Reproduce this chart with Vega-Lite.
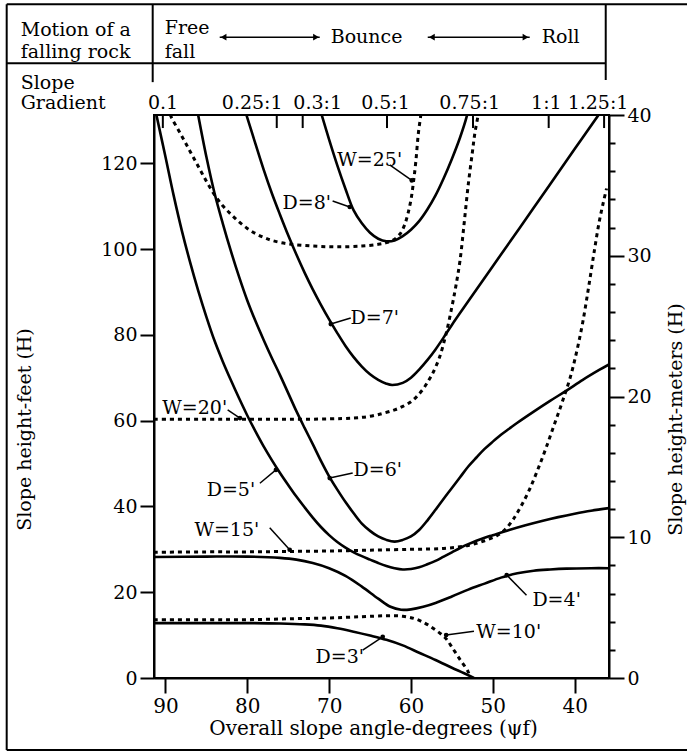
{
  "$schema": "https://vega.github.io/schema/vega-lite/v6.json",
  "width": 455,
  "height": 563,
  "autosize": {"type": "none"},
  "padding": {"left": 154, "top": 115, "right": 78, "bottom": 75},
  "background": "white",
  "config": {
    "view": {"stroke": "black", "strokeWidth": 2},
    "font": "DejaVu Serif",
    "axis": {
      "domainColor": "black", "domainWidth": 2, "tickColor": "black", "tickWidth": 2,
      "labelColor": "black", "titleColor": "black", "labelFont": "DejaVu Serif", "titleFont": "DejaVu Serif",
      "labelFontSize": 19, "titleFontSize": 19, "titleFontWeight": "normal", "grid": false
    }
  },
  "datasets": {
    "D": [
      {"s": "D=3", "x": 91.4, "h": 12.8}, {"s": "D=3", "x": 85, "h": 12.8}, {"s": "D=3", "x": 80, "h": 12.8}, {"s": "D=3", "x": 76, "h": 12.7}, {"s": "D=3", "x": 73, "h": 12.5}, {"s": "D=3", "x": 71, "h": 12.2}, {"s": "D=3", "x": 69, "h": 11.6}, {"s": "D=3", "x": 67, "h": 10.8}, {"s": "D=3", "x": 65, "h": 9.9}, {"s": "D=3", "x": 63, "h": 8.9}, {"s": "D=3", "x": 61, "h": 7.6}, {"s": "D=3", "x": 59, "h": 5.9}, {"s": "D=3", "x": 57, "h": 4.2}, {"s": "D=3", "x": 55, "h": 2.4}, {"s": "D=3", "x": 53.5, "h": 1.1}, {"s": "D=3", "x": 52.3, "h": 0},
      {"s": "D=4", "x": 91.4, "h": 28.2}, {"s": "D=4", "x": 85, "h": 28.3}, {"s": "D=4", "x": 80, "h": 28.3}, {"s": "D=4", "x": 76, "h": 28.0}, {"s": "D=4", "x": 74, "h": 27.6}, {"s": "D=4", "x": 72, "h": 26.8}, {"s": "D=4", "x": 70, "h": 25.6}, {"s": "D=4", "x": 68, "h": 23.8}, {"s": "D=4", "x": 66, "h": 21.3}, {"s": "D=4", "x": 64, "h": 18.5}, {"s": "D=4", "x": 62.5, "h": 16.6}, {"s": "D=4", "x": 61.2, "h": 15.9}, {"s": "D=4", "x": 60, "h": 16.0}, {"s": "D=4", "x": 58.5, "h": 16.6}, {"s": "D=4", "x": 57, "h": 17.5}, {"s": "D=4", "x": 55, "h": 19.0}, {"s": "D=4", "x": 53, "h": 20.6}, {"s": "D=4", "x": 51, "h": 22.0}, {"s": "D=4", "x": 49, "h": 23.4}, {"s": "D=4", "x": 47, "h": 24.4}, {"s": "D=4", "x": 45, "h": 25.0}, {"s": "D=4", "x": 43, "h": 25.3}, {"s": "D=4", "x": 41, "h": 25.5}, {"s": "D=4", "x": 38, "h": 25.6}, {"s": "D=4", "x": 35.8, "h": 25.6},
      {"s": "D=5", "x": 91.1, "h": 131.2}, {"s": "D=5", "x": 90, "h": 121.5}, {"s": "D=5", "x": 89, "h": 112.5}, {"s": "D=5", "x": 88, "h": 104.3}, {"s": "D=5", "x": 87, "h": 97}, {"s": "D=5", "x": 86, "h": 90.3}, {"s": "D=5", "x": 85, "h": 84.2}, {"s": "D=5", "x": 84, "h": 78.6}, {"s": "D=5", "x": 83, "h": 73.8}, {"s": "D=5", "x": 82, "h": 69.4}, {"s": "D=5", "x": 81, "h": 65.2}, {"s": "D=5", "x": 80, "h": 61.2}, {"s": "D=5", "x": 79, "h": 57.5}, {"s": "D=5", "x": 78, "h": 54}, {"s": "D=5", "x": 77, "h": 50.8}, {"s": "D=5", "x": 76, "h": 47.8}, {"s": "D=5", "x": 75, "h": 45}, {"s": "D=5", "x": 74, "h": 42.3}, {"s": "D=5", "x": 73, "h": 39.8}, {"s": "D=5", "x": 72, "h": 37.4}, {"s": "D=5", "x": 71, "h": 35.2}, {"s": "D=5", "x": 70, "h": 33.3}, {"s": "D=5", "x": 69, "h": 31.7}, {"s": "D=5", "x": 68, "h": 30.4}, {"s": "D=5", "x": 67, "h": 29.3}, {"s": "D=5", "x": 66, "h": 28.4}, {"s": "D=5", "x": 65, "h": 27.6}, {"s": "D=5", "x": 64, "h": 26.8}, {"s": "D=5", "x": 63, "h": 26.1}, {"s": "D=5", "x": 62, "h": 25.6}, {"s": "D=5", "x": 61, "h": 25.3}, {"s": "D=5", "x": 60, "h": 25.4}, {"s": "D=5", "x": 59, "h": 25.8}, {"s": "D=5", "x": 58, "h": 26.5}, {"s": "D=5", "x": 57, "h": 27.3}, {"s": "D=5", "x": 56, "h": 28.3}, {"s": "D=5", "x": 55, "h": 29.3}, {"s": "D=5", "x": 54, "h": 30.3}, {"s": "D=5", "x": 53, "h": 31.2}, {"s": "D=5", "x": 52, "h": 32.0}, {"s": "D=5", "x": 51, "h": 32.7}, {"s": "D=5", "x": 50, "h": 33.3}, {"s": "D=5", "x": 48, "h": 34.5}, {"s": "D=5", "x": 46, "h": 35.6}, {"s": "D=5", "x": 44, "h": 36.6}, {"s": "D=5", "x": 42, "h": 37.5}, {"s": "D=5", "x": 40, "h": 38.3}, {"s": "D=5", "x": 38, "h": 39.0}, {"s": "D=5", "x": 35.8, "h": 39.6},
      {"s": "D=6", "x": 86, "h": 131.2}, {"s": "D=6", "x": 85, "h": 121.5}, {"s": "D=6", "x": 84, "h": 113}, {"s": "D=6", "x": 83, "h": 106}, {"s": "D=6", "x": 82, "h": 99.5}, {"s": "D=6", "x": 81, "h": 93.5}, {"s": "D=6", "x": 80, "h": 88}, {"s": "D=6", "x": 79, "h": 83.2}, {"s": "D=6", "x": 78, "h": 78.8}, {"s": "D=6", "x": 77, "h": 74.6}, {"s": "D=6", "x": 76, "h": 70.6}, {"s": "D=6", "x": 75, "h": 66.4}, {"s": "D=6", "x": 74, "h": 62.2}, {"s": "D=6", "x": 73, "h": 58.3}, {"s": "D=6", "x": 72, "h": 54.5}, {"s": "D=6", "x": 71, "h": 50.6}, {"s": "D=6", "x": 70, "h": 47}, {"s": "D=6", "x": 69, "h": 43.9}, {"s": "D=6", "x": 68, "h": 41}, {"s": "D=6", "x": 67, "h": 38.4}, {"s": "D=6", "x": 66, "h": 36}, {"s": "D=6", "x": 65, "h": 34.3}, {"s": "D=6", "x": 64, "h": 33}, {"s": "D=6", "x": 63, "h": 32.2}, {"s": "D=6", "x": 62, "h": 31.8}, {"s": "D=6", "x": 61, "h": 32.2}, {"s": "D=6", "x": 60, "h": 33}, {"s": "D=6", "x": 59, "h": 34.5}, {"s": "D=6", "x": 58, "h": 36.7}, {"s": "D=6", "x": 57, "h": 39.2}, {"s": "D=6", "x": 56, "h": 41.8}, {"s": "D=6", "x": 55, "h": 44.3}, {"s": "D=6", "x": 54, "h": 46.8}, {"s": "D=6", "x": 53, "h": 49.3}, {"s": "D=6", "x": 52, "h": 51.4}, {"s": "D=6", "x": 51, "h": 53.4}, {"s": "D=6", "x": 50, "h": 55.1}, {"s": "D=6", "x": 49, "h": 56.7}, {"s": "D=6", "x": 48, "h": 58.1}, {"s": "D=6", "x": 47, "h": 59.5}, {"s": "D=6", "x": 45, "h": 62.1}, {"s": "D=6", "x": 43, "h": 64.6}, {"s": "D=6", "x": 41, "h": 67}, {"s": "D=6", "x": 39, "h": 69.5}, {"s": "D=6", "x": 37, "h": 71.8}, {"s": "D=6", "x": 35.8, "h": 73.1},
      {"s": "D=7", "x": 80.1, "h": 131.2}, {"s": "D=7", "x": 79, "h": 124.5}, {"s": "D=7", "x": 78, "h": 118.5}, {"s": "D=7", "x": 77, "h": 113}, {"s": "D=7", "x": 76, "h": 108}, {"s": "D=7", "x": 75, "h": 103.2}, {"s": "D=7", "x": 74, "h": 98.7}, {"s": "D=7", "x": 73, "h": 94.5}, {"s": "D=7", "x": 72, "h": 90.6}, {"s": "D=7", "x": 71, "h": 87}, {"s": "D=7", "x": 70, "h": 83.6}, {"s": "D=7", "x": 69, "h": 80.4}, {"s": "D=7", "x": 68, "h": 77.4}, {"s": "D=7", "x": 67, "h": 74.8}, {"s": "D=7", "x": 66, "h": 72.6}, {"s": "D=7", "x": 65, "h": 70.8}, {"s": "D=7", "x": 64, "h": 69.5}, {"s": "D=7", "x": 63, "h": 68.6}, {"s": "D=7", "x": 62.3, "h": 68.3}, {"s": "D=7", "x": 61, "h": 68.8}, {"s": "D=7", "x": 60, "h": 70}, {"s": "D=7", "x": 59, "h": 71.9}, {"s": "D=7", "x": 58, "h": 74.1}, {"s": "D=7", "x": 57, "h": 76.6}, {"s": "D=7", "x": 56, "h": 79.4}, {"s": "D=7", "x": 55, "h": 82.3}, {"s": "D=7", "x": 53, "h": 87.8}, {"s": "D=7", "x": 50, "h": 96}, {"s": "D=7", "x": 45, "h": 109.6}, {"s": "D=7", "x": 40, "h": 123.3}, {"s": "D=7", "x": 37.1, "h": 131.2},
      {"s": "D=8", "x": 71.2, "h": 133}, {"s": "D=8", "x": 70.9, "h": 131.2}, {"s": "D=8", "x": 70, "h": 125.5}, {"s": "D=8", "x": 69, "h": 119.5}, {"s": "D=8", "x": 68, "h": 114}, {"s": "D=8", "x": 67, "h": 109}, {"s": "D=8", "x": 66, "h": 106}, {"s": "D=8", "x": 65, "h": 103.8}, {"s": "D=8", "x": 64, "h": 102.4}, {"s": "D=8", "x": 63, "h": 101.8}, {"s": "D=8", "x": 62, "h": 102}, {"s": "D=8", "x": 61, "h": 103}, {"s": "D=8", "x": 60, "h": 104.5}, {"s": "D=8", "x": 59, "h": 106.5}, {"s": "D=8", "x": 58, "h": 109.2}, {"s": "D=8", "x": 57, "h": 112.5}, {"s": "D=8", "x": 56, "h": 116.5}, {"s": "D=8", "x": 55, "h": 121}, {"s": "D=8", "x": 54, "h": 126}, {"s": "D=8", "x": 53.2, "h": 130.8}, {"s": "D=8", "x": 53, "h": 132.5}
    ],
    "W": [
      {"s": "W=10", "x": 91.4, "h": 13.6}, {"s": "W=10", "x": 85, "h": 13.6}, {"s": "W=10", "x": 80, "h": 13.6}, {"s": "W=10", "x": 75, "h": 13.8}, {"s": "W=10", "x": 70, "h": 14.0}, {"s": "W=10", "x": 66, "h": 14.3}, {"s": "W=10", "x": 63, "h": 14.5}, {"s": "W=10", "x": 61, "h": 14.4}, {"s": "W=10", "x": 59.5, "h": 13.8}, {"s": "W=10", "x": 58.3, "h": 12.8}, {"s": "W=10", "x": 57.3, "h": 11.6}, {"s": "W=10", "x": 56.3, "h": 10.2}, {"s": "W=10", "x": 55.6, "h": 8.9}, {"s": "W=10", "x": 55, "h": 7.2}, {"s": "W=10", "x": 54, "h": 4.3}, {"s": "W=10", "x": 53, "h": 1.4}, {"s": "W=10", "x": 52.8, "h": 0},
      {"s": "W=15", "x": 91.4, "h": 29.3}, {"s": "W=15", "x": 85, "h": 29.4}, {"s": "W=15", "x": 80, "h": 29.4}, {"s": "W=15", "x": 75, "h": 29.5}, {"s": "W=15", "x": 70, "h": 29.6}, {"s": "W=15", "x": 65, "h": 29.8}, {"s": "W=15", "x": 60, "h": 30.0}, {"s": "W=15", "x": 56, "h": 30.2}, {"s": "W=15", "x": 53, "h": 30.9}, {"s": "W=15", "x": 51, "h": 32.0}, {"s": "W=15", "x": 49.5, "h": 33.2}, {"s": "W=15", "x": 48.5, "h": 34.6}, {"s": "W=15", "x": 47.5, "h": 37.0}, {"s": "W=15", "x": 46.5, "h": 40.2}, {"s": "W=15", "x": 45.5, "h": 44.0}, {"s": "W=15", "x": 44.5, "h": 48.6}, {"s": "W=15", "x": 43.5, "h": 53.6}, {"s": "W=15", "x": 42.5, "h": 59.0}, {"s": "W=15", "x": 41.5, "h": 64.4}, {"s": "W=15", "x": 40.5, "h": 70.3}, {"s": "W=15", "x": 39.7, "h": 76.5}, {"s": "W=15", "x": 39, "h": 83}, {"s": "W=15", "x": 38.3, "h": 91}, {"s": "W=15", "x": 37.6, "h": 99.5}, {"s": "W=15", "x": 37, "h": 106.3}, {"s": "W=15", "x": 36.5, "h": 110.8}, {"s": "W=15", "x": 36.1, "h": 114.1},
      {"s": "W=20", "x": 91.4, "h": 60.3}, {"s": "W=20", "x": 85, "h": 60.3}, {"s": "W=20", "x": 80, "h": 60.3}, {"s": "W=20", "x": 75, "h": 60.3}, {"s": "W=20", "x": 70, "h": 60.4}, {"s": "W=20", "x": 67, "h": 60.6}, {"s": "W=20", "x": 65, "h": 61.0}, {"s": "W=20", "x": 63.4, "h": 61.7}, {"s": "W=20", "x": 62, "h": 62.5}, {"s": "W=20", "x": 61, "h": 63.3}, {"s": "W=20", "x": 60, "h": 64.4}, {"s": "W=20", "x": 59.3, "h": 65.6}, {"s": "W=20", "x": 58.5, "h": 67.4}, {"s": "W=20", "x": 57.8, "h": 69.5}, {"s": "W=20", "x": 57.3, "h": 71.2}, {"s": "W=20", "x": 56.5, "h": 74.8}, {"s": "W=20", "x": 55.7, "h": 80.3}, {"s": "W=20", "x": 55, "h": 86.5}, {"s": "W=20", "x": 54.5, "h": 91.5}, {"s": "W=20", "x": 54, "h": 97.4}, {"s": "W=20", "x": 53.5, "h": 106}, {"s": "W=20", "x": 53, "h": 115}, {"s": "W=20", "x": 52.5, "h": 122.5}, {"s": "W=20", "x": 52.2, "h": 126.9}, {"s": "W=20", "x": 51.8, "h": 131.2}, {"s": "W=20", "x": 51.7, "h": 133},
      {"s": "W=25", "x": 89.8, "h": 133}, {"s": "W=25", "x": 89.3, "h": 130.8}, {"s": "W=25", "x": 88, "h": 126.3}, {"s": "W=25", "x": 87, "h": 122.8}, {"s": "W=25", "x": 86, "h": 119.3}, {"s": "W=25", "x": 85, "h": 115.8}, {"s": "W=25", "x": 84, "h": 112.6}, {"s": "W=25", "x": 83, "h": 110.1}, {"s": "W=25", "x": 82, "h": 108.1}, {"s": "W=25", "x": 81, "h": 106.3}, {"s": "W=25", "x": 80, "h": 104.8}, {"s": "W=25", "x": 79, "h": 103.6}, {"s": "W=25", "x": 78, "h": 102.7}, {"s": "W=25", "x": 77, "h": 102}, {"s": "W=25", "x": 75, "h": 101.2}, {"s": "W=25", "x": 72, "h": 100.7}, {"s": "W=25", "x": 69, "h": 100.5}, {"s": "W=25", "x": 66, "h": 100.7}, {"s": "W=25", "x": 64, "h": 101.1}, {"s": "W=25", "x": 63, "h": 101.5}, {"s": "W=25", "x": 62, "h": 102.3}, {"s": "W=25", "x": 61.3, "h": 103.6}, {"s": "W=25", "x": 60.8, "h": 105.5}, {"s": "W=25", "x": 60.4, "h": 108}, {"s": "W=25", "x": 60, "h": 111.5}, {"s": "W=25", "x": 59.7, "h": 115.5}, {"s": "W=25", "x": 59.4, "h": 120.5}, {"s": "W=25", "x": 59.1, "h": 126.9}, {"s": "W=25", "x": 58.8, "h": 131.2}, {"s": "W=25", "x": 58.7, "h": 133}
    ],
    "labels": [
      {"t": "W=25'", "x": 65.04, "h": 120.7}, {"t": "D=8'", "x": 72.73, "h": 110.7}, {"t": "D=7'", "x": 64.43, "h": 83.9},
      {"t": "W=20'", "x": 86.43, "h": 62.9}, {"t": "D=5'", "x": 82.0, "h": 43.8}, {"t": "D=6'", "x": 64.06, "h": 48.5},
      {"t": "W=15'", "x": 82.5, "h": 34.5}, {"t": "D=4'", "x": 42.2, "h": 18.2}, {"t": "W=10'", "x": 48.05, "h": 10.7}, {"t": "D=3'", "x": 68.7, "h": 4.9}
    ],
    "leaders": [
      {"x": 59.9, "h": 116.0, "x2": 62.6, "h2": 119.6}, {"x": 67.48, "h": 109.8, "x2": 69.57, "h2": 111.2},
      {"x": 69.8, "h": 82.5, "x2": 67.36, "h2": 83.9}, {"x": 80.9, "h": 60.6, "x2": 82.4, "h2": 62.5},
      {"x": 76.5, "h": 48.5, "x2": 78.46, "h2": 45.4}, {"x": 69.93, "h": 46.6, "x2": 67.12, "h2": 47.8},
      {"x": 74.82, "h": 29.9, "x2": 77.26, "h2": 35.0}, {"x": 48.3, "h": 24.0, "x2": 45.88, "h2": 19.3},
      {"x": 55.7, "h": 10.0, "x2": 52.3, "h2": 10.9}, {"x": 63.45, "h": 9.6, "x2": 65.9, "h2": 6.5}
    ],
    "frame": [
      {"x": 109.4, "h": 157.07, "x2": 20, "h2": 157.07}, {"x": 109.4, "h": 143.32, "x2": 36.2, "h2": 143.32},
      {"x": 91.56, "h": 157.07, "x2": 91.56, "h2": 138.9}, {"x": 36.2, "h": 157.07, "x2": 36.2, "h2": 139.4},
      {"x": 109.4, "h": 157.07, "x2": 109.4, "h2": -16.8}, {"x": 109.4, "h": -16.8, "x2": 20, "h2": -16.8}
    ],
    "headtext": [
      {"t": "Motion of a", "x": 107.69, "h": 151.0}, {"t": "falling rock", "x": 107.69, "h": 145.9},
      {"t": "Free", "x": 90.09, "h": 151.5}, {"t": "fall", "x": 90.09, "h": 145.9},
      {"t": "Bounce", "x": 69.81, "h": 149.38}, {"t": "Roll", "x": 44.02, "h": 149.38},
      {"t": "Slope", "x": 107.69, "h": 138.8}, {"t": "Gradient", "x": 107.69, "h": 134.0}
    ],
    "arrows": [
      {"x": 83.37, "h": 149.38, "x2": 71.15, "h2": 149.38}, {"x": 57.95, "h": 149.38, "x2": 45.49, "h2": 149.38}
    ],
    "heads": [
      {"x": 82.9, "h": 149.38, "dir": "left"}, {"x": 71.6, "h": 149.38, "dir": "right"},
      {"x": 57.45, "h": 149.38, "dir": "left"}, {"x": 46.0, "h": 149.38, "dir": "right"}
    ],
    "gradticks": [
      {"g": "0.1", "x": 90.32, "h": 131.24, "h2": 128.2}, {"g": "0.25:1", "x": 76.4, "h": 131.24, "h2": 128.2},
      {"g": "0.3:1", "x": 73.23, "h": 131.24, "h2": 128.2}, {"g": "0.5:1", "x": 62.93, "h": 131.24, "h2": 128.2},
      {"g": "0.75:1", "x": 52.42, "h": 131.24, "h2": 128.2}, {"g": "1:1", "x": 43.17, "h": 131.24, "h2": 128.2},
      {"g": "1.25:1", "x": 36.4, "h": 131.24, "h2": 128.2}
    ],
    "gradlabels": [
      {"g": "0.1", "x": 90.3, "h": 134.0}, {"g": "0.25:1", "x": 79.4, "h": 134.0}, {"g": "0.3:1", "x": 71.4, "h": 134.0},
      {"g": "0.5:1", "x": 63.11, "h": 134.0}, {"g": "0.75:1", "x": 52.82, "h": 134.0}, {"g": "1:1", "x": 43.45, "h": 134.0},
      {"g": "1.25:1", "x": 37.14, "h": 134.0}
    ]
  },
  "encoding": {
    "x": {"field": "x", "type": "quantitative", "scale": {"domain": [35.8, 91.4], "reverse": true, "nice": false, "zero": false}, "axis": null},
    "y": {"field": "h", "type": "quantitative", "scale": {"domain": [0, 131.24], "nice": false, "zero": false}, "axis": null}
  },
  "layer": [
    {
      "data": {"name": "D"},
      "mark": {"type": "line", "clip": true, "color": "black", "strokeWidth": 2.6, "interpolate": "catmull-rom"},
      "encoding": {
        "x": {"field": "x", "type": "quantitative", "scale": {"domain": [35.8, 91.4], "reverse": true, "nice": false, "zero": false},
          "axis": {"orient": "bottom", "values": [90, 80, 70, 60, 50, 40], "tickSize": 15, "labelPadding": 3, "labelFontSize": 20,
            "title": "Overall slope angle-degrees (ψf)", "titleFontSize": 20, "titleX": 219, "titleY": 50, "titleBaseline": "middle"}},
        "y": {"field": "h", "type": "quantitative", "scale": {"domain": [0, 131.24], "nice": false, "zero": false},
          "axis": {"orient": "left", "values": [0, 20, 40, 60, 80, 100, 120], "tickSize": 14, "labelPadding": 3,
            "title": "Slope height-feet (H)", "titleX": -130, "titleY": 314, "titleBaseline": "middle", "titleAngle": 270}},
        "detail": {"field": "s"}
      }
    },
    {
      "data": {"name": "W"},
      "mark": {"type": "line", "clip": true, "color": "black", "strokeWidth": 3, "strokeDash": [4, 4], "interpolate": "catmull-rom"},
      "encoding": {
        "y": {"field": "h", "type": "quantitative", "scale": {"domain": [0, 131.24], "nice": false, "zero": false},
          "axis": {"orient": "right",
            "values": [0, 6.56168, 13.12336, 19.68504, 26.24672, 32.8084, 39.37008, 45.93176, 52.49344, 59.05512, 65.6168, 72.17848, 78.74016, 85.30184, 91.86352, 98.4252, 104.98688, 111.54856, 118.11024, 124.67192, 131.2336],
            "labelExpr": "round(datum.value/3.28084) % 10 == 0 ? '' + round(datum.value/3.28084) : ''",
            "tickSize": {"condition": {"test": "round(datum.value/3.28084) % 10 == 0", "value": 15}, "value": 6},
            "labelPadding": 3, "labelFlush": false,
            "title": "Slope height-meters (H)", "titleX": 66, "titleY": 304, "titleBaseline": "middle", "titleAngle": 270}},
        "detail": {"field": "s"}
      }
    },
    {
      "data": {"name": "leaders"},
      "mark": {"type": "rule", "color": "black", "strokeWidth": 1.5},
      "encoding": {"x2": {"field": "x2"}, "y2": {"field": "h2"}}
    },
    {
      "data": {"name": "leaders"},
      "mark": {"type": "point", "filled": true, "color": "black", "size": 22, "opacity": 1},
      "encoding": {}
    },
    {
      "data": {"name": "labels"},
      "mark": {"type": "text", "font": "DejaVu Serif", "fontSize": 19, "color": "black", "align": "center", "baseline": "middle"},
      "encoding": {"text": {"field": "t"}}
    },
    {
      "data": {"name": "frame"},
      "mark": {"type": "rule", "color": "black", "strokeWidth": 2, "clip": false},
      "encoding": {"x2": {"field": "x2"}, "y2": {"field": "h2"}}
    },
    {
      "data": {"name": "headtext"},
      "mark": {"type": "text", "font": "DejaVu Serif", "fontSize": 19, "color": "black", "align": "left", "baseline": "middle"},
      "encoding": {"text": {"field": "t"}}
    },
    {
      "data": {"name": "arrows"},
      "mark": {"type": "rule", "color": "black", "strokeWidth": 1.5},
      "encoding": {"x2": {"field": "x2"}, "y2": {"field": "h2"}}
    },
    {
      "data": {"name": "heads"},
      "mark": {"type": "point", "filled": true, "color": "black", "size": 45, "opacity": 1},
      "encoding": {"shape": {"field": "dir", "type": "nominal", "scale": {"domain": ["left", "right"], "range": ["triangle-left", "triangle-right"]}, "legend": null}}
    },
    {
      "data": {"name": "gradticks"},
      "mark": {"type": "rule", "color": "black", "strokeWidth": 2},
      "encoding": {"y2": {"field": "h2"}}
    },
    {
      "data": {"name": "gradlabels"},
      "mark": {"type": "text", "font": "DejaVu Serif", "fontSize": 19, "color": "black", "align": "center", "baseline": "middle"},
      "encoding": {"text": {"field": "g"}}
    }
  ],
  "resolve": {"axis": {"x": "independent", "y": "independent"}}
}
